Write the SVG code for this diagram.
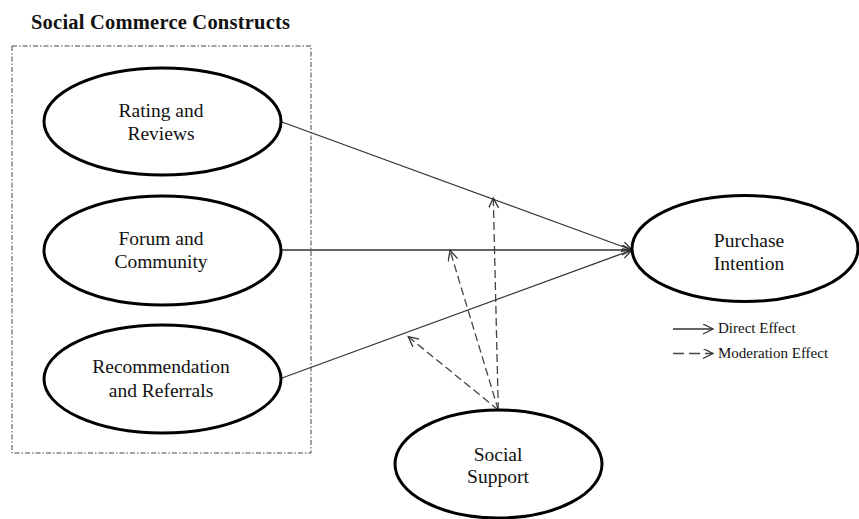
<svg xmlns="http://www.w3.org/2000/svg" width="859" height="519" viewBox="0 0 859 519">
<style>
  .node ellipse { fill: #fff; stroke: #000; stroke-width: 3; }
  .lbl { font-family: "Liberation Serif", "Times New Roman", serif; font-size: 19.5px; fill: #111; text-anchor: middle; }
  .title { font-family: "Liberation Serif", "Times New Roman", serif; font-size: 20.5px; font-weight: bold; fill: #111; }
  .leg { font-family: "Liberation Serif", "Times New Roman", serif; font-size: 15px; fill: #111; }
  .direct { stroke: #333; stroke-width: 1.3; fill: none; marker-end: url(#arr); }
  .mod { stroke: #444; stroke-width: 1.3; fill: none; stroke-dasharray: 8 4; marker-end: url(#arr); }
  .box { fill: none; stroke: #444; stroke-width: 1; stroke-dasharray: 5 2 1.5 2; }
</style>
<defs>
  <marker id="arr" markerWidth="14" markerHeight="14" refX="11" refY="5" orient="auto" markerUnits="userSpaceOnUse">
    <path d="M1,0 L11,5 L1,10" fill="none" stroke="#333" stroke-width="1.3" stroke-dasharray="none"/>
  </marker>
</defs>
<rect width="859" height="519" fill="#fff"/>
<text class="title" x="31" y="29" textLength="259" lengthAdjust="spacing">Social Commerce Constructs</text>
<rect class="box" x="12" y="46" width="299" height="407"/>

<g id="connectors">
  <line class="direct" x1="282" y1="122" x2="632" y2="250"/>
  <line class="direct" x1="282" y1="250" x2="632" y2="250"/>
  <line class="direct" x1="282" y1="378" x2="632" y2="250"/>
  <line class="mod" x1="498.3" y1="410" x2="493.3" y2="198"/>
  <line class="mod" x1="498.3" y1="410" x2="450" y2="250.5"/>
  <line class="mod" x1="498.3" y1="410" x2="408.3" y2="336.7"/>
</g>

<g id="rating-reviews" class="node">
  <ellipse cx="162.5" cy="121.5" rx="118.5" ry="53.5"/>
  <text class="lbl" x="161" y="117">Rating and</text>
  <text class="lbl" x="161" y="140">Reviews</text>
</g>
<g id="forum-community" class="node">
  <ellipse cx="162.5" cy="250.5" rx="118.5" ry="54.5"/>
  <text class="lbl" x="161" y="245">Forum and</text>
  <text class="lbl" x="161" y="268">Community</text>
</g>
<g id="recommendation-referrals" class="node">
  <ellipse cx="162.5" cy="379" rx="118.5" ry="54"/>
  <text class="lbl" x="161" y="373">Recommendation</text>
  <text class="lbl" x="161" y="397">and Referrals</text>
</g>
<g id="purchase-intention" class="node">
  <ellipse cx="745" cy="248.5" rx="113" ry="53"/>
  <text class="lbl" x="749" y="247">Purchase</text>
  <text class="lbl" x="749" y="270">Intention</text>
</g>
<g id="social-support" class="node">
  <ellipse cx="498.5" cy="464" rx="103.5" ry="54"/>
  <text class="lbl" x="498" y="461">Social</text>
  <text class="lbl" x="498" y="483">Support</text>
</g>

<g id="legend">
  <line class="direct" x1="673" y1="329" x2="713" y2="329"/>
  <text class="leg" x="718" y="333">Direct Effect</text>
  <line class="mod" x1="673" y1="353.5" x2="713" y2="353.5" style="stroke-dasharray: 11 5"/>
  <text class="leg" x="718" y="358">Moderation Effect</text>
</g>
</svg>
